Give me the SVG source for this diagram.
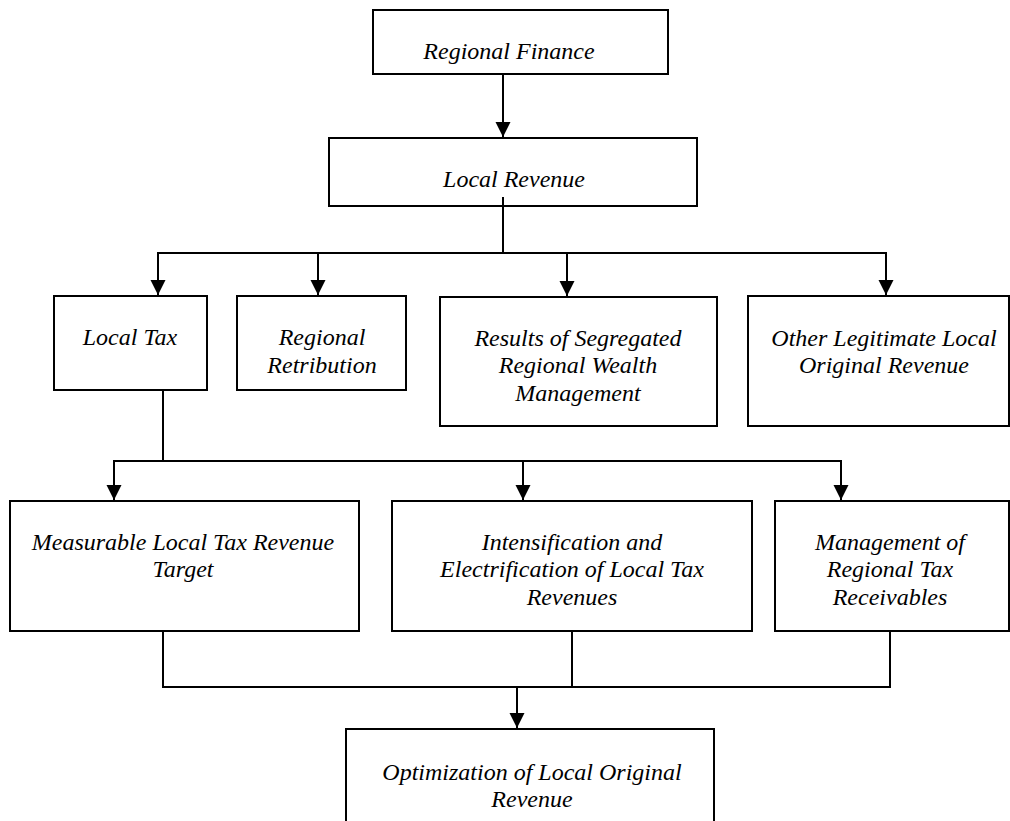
<svg xmlns="http://www.w3.org/2000/svg" width="1010" height="821" viewBox="0 0 1010 821">
<style>
.box{fill:#fff;stroke:#000;stroke-width:2}
.t{font-family:"Liberation Serif","Times New Roman",serif;font-style:italic;font-size:24px;fill:#000;text-anchor:middle}
.c{fill:none;stroke:#000;stroke-width:2}
</style>
<defs>
<marker id="ah" markerUnits="userSpaceOnUse" markerWidth="16" markerHeight="16" refX="15" refY="7.5" orient="auto">
<path d="M0,0 L15,7.5 L0,15 z" fill="#000"/>
</marker>
</defs>
<g id="regional-finance">
<rect class="box" x="373" y="10" width="295" height="64"/>
<text class="t" x="509" y="59">Regional Finance</text>
</g>
<g id="local-revenue">
<rect class="box" x="329" y="138" width="368" height="68"/>
<text class="t" x="514" y="187">Local Revenue</text>
</g>
<g id="local-tax">
<rect class="box" x="54" y="296" width="153" height="94"/>
<text class="t" x="130" y="345">Local Tax</text>
</g>
<g id="regional-retribution">
<rect class="box" x="237" y="296" width="169" height="94"/>
<text class="t" x="322" y="345">Regional</text>
<text class="t" x="322" y="373">Retribution</text>
</g>
<g id="results">
<rect class="box" x="440" y="297" width="277" height="129"/>
<text class="t" x="578" y="346">Results of Segregated</text>
<text class="t" x="578" y="373">Regional Wealth</text>
<text class="t" x="578" y="401">Management</text>
</g>
<g id="other">
<rect class="box" x="748" y="296" width="261" height="130"/>
<text class="t" x="884" y="346">Other Legitimate Local</text>
<text class="t" x="884" y="373">Original Revenue</text>
</g>
<g id="measurable">
<rect class="box" x="10" y="501" width="349" height="130"/>
<text class="t" x="183" y="550">Measurable Local Tax Revenue</text>
<text class="t" x="183" y="577">Target</text>
</g>
<g id="intensification">
<rect class="box" x="392" y="501" width="360" height="130"/>
<text class="t" x="572" y="550">Intensification and</text>
<text class="t" x="572" y="577">Electrification of Local Tax</text>
<text class="t" x="572" y="605">Revenues</text>
</g>
<g id="management">
<rect class="box" x="775" y="501" width="234" height="130"/>
<text class="t" x="890" y="550">Management of</text>
<text class="t" x="890" y="577">Regional Tax</text>
<text class="t" x="890" y="605">Receivables</text>
</g>
<g id="optimization">
<rect class="box" x="346" y="729" width="368" height="110"/>
<text class="t" x="532" y="780">Optimization of Local Original</text>
<text class="t" x="532" y="807">Revenue</text>
</g>
<g id="connectors">
<line class="c" x1="503" y1="75" x2="503" y2="137" marker-end="url(#ah)"/>
<line class="c" x1="503" y1="197" x2="503" y2="253"/>
<line class="c" x1="157" y1="253" x2="887" y2="253"/>
<line class="c" x1="158" y1="253" x2="158" y2="295" marker-end="url(#ah)"/>
<line class="c" x1="318" y1="253" x2="318" y2="295" marker-end="url(#ah)"/>
<line class="c" x1="567" y1="253" x2="567" y2="296" marker-end="url(#ah)"/>
<line class="c" x1="886" y1="253" x2="886" y2="295" marker-end="url(#ah)"/>
<line class="c" x1="163" y1="391" x2="163" y2="461"/>
<line class="c" x1="113" y1="461" x2="842" y2="461"/>
<line class="c" x1="114" y1="461" x2="114" y2="500" marker-end="url(#ah)"/>
<line class="c" x1="523" y1="461" x2="523" y2="500" marker-end="url(#ah)"/>
<line class="c" x1="841" y1="461" x2="841" y2="500" marker-end="url(#ah)"/>
<polyline class="c" points="163,632 163,687 890,687 890,632"/>
<line class="c" x1="572" y1="632" x2="572" y2="687"/>
<line class="c" x1="517" y1="687" x2="517" y2="728" marker-end="url(#ah)"/>
</g>
</svg>
